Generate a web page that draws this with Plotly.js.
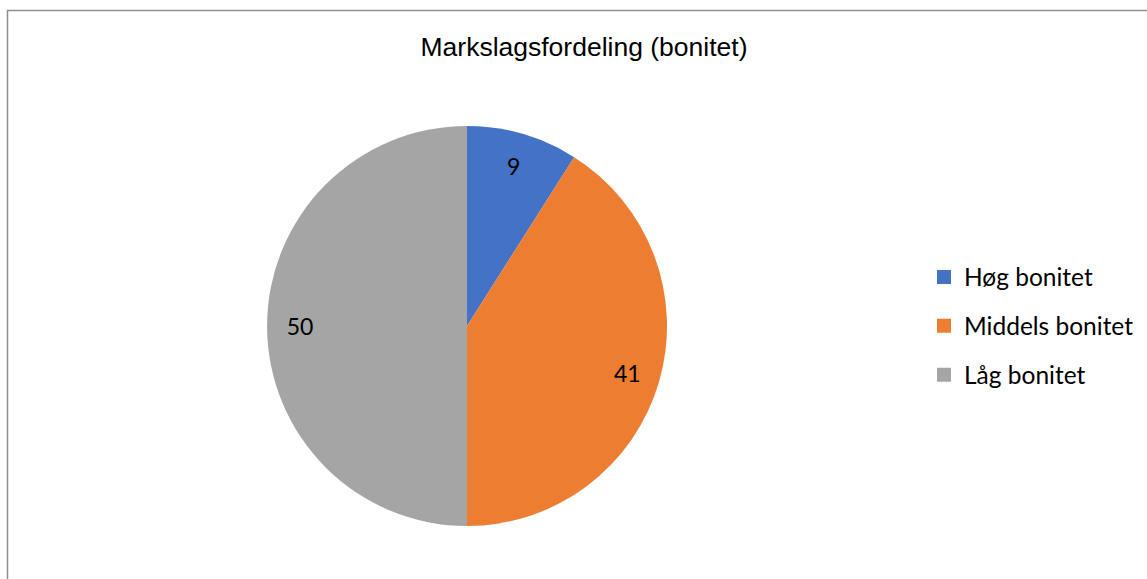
<!DOCTYPE html>
<html>
<head>
<meta charset="utf-8">
<script src="https://cdn.plot.ly/plotly-3.0.1.min.js"></script>
<style>
html,body{margin:0;padding:0;background:#fff;}
#chart{width:1147px;height:579px;}
</style>
</head>
<body>
<div id="chart"></div>
<script>
const categories = ["Høg bonitet", "Middels bonitet", "Låg bonitet"];
const values = [9, 41, 50];
const colors = ["#4472C4", "#ED7D31", "#A5A5A5"];
const chartTitle = "Markslagsfordeling (bonitet)";

const W = 1147, H = 579;
const pieDomain = {x: [267 / W, 667 / W], y: [53 / H, 453 / H]};
const labelFont = {family: "Lato, 'Open Sans', sans-serif", size: 23, color: "#000"};
const legendFont = {family: "Lato, 'Open Sans', sans-serif", size: 24.5, color: "#000"};

// visible pie (no text)
const pie = {
  type: "pie",
  labels: categories,
  values: values,
  sort: false,
  direction: "clockwise",
  rotation: 0,
  marker: {colors: colors, line: {width: 0}},
  textinfo: "none",
  showlegend: false,
  hoverinfo: "label+value",
  domain: pieDomain
};

// transparent ring on top carrying the data labels near the rim
const labelRing = {
  type: "pie",
  labels: categories,
  values: values,
  sort: false,
  direction: "clockwise",
  rotation: 0,
  hole: 0.67,
  marker: {colors: categories.map(() => "rgba(0,0,0,0)"), line: {width: 0}},
  textinfo: "value",
  textposition: "inside",
  insidetextorientation: "horizontal",
  insidetextfont: labelFont,
  showlegend: false,
  hoverinfo: "skip",
  domain: pieDomain
};

const legendTraces = categories.map((c, i) => ({
  type: "scatter",
  mode: "markers",
  x: [null], y: [null],
  name: c,
  legendgroup: "g" + i,
  marker: {symbol: "square", size: 14, color: colors[i]},
  hoverinfo: "skip"
}));

const layout = {
  width: W, height: H,
  margin: {l: 0, r: 0, t: 0, b: 0},
  paper_bgcolor: "#fff",
  plot_bgcolor: "#fff",
  title: {
    text: chartTitle,
    font: {family: "'Liberation Sans', Arial, sans-serif", size: 26.5, color: "#000"},
    x: 584 / W, xanchor: "center", xref: "container",
    y: 1 - 47 / H, yanchor: "middle", yref: "container"
  },
  xaxis: {visible: false},
  yaxis: {visible: false},
  showlegend: true,
  legend: {
    x: 924 / W, xanchor: "left",
    y: 1 - 326 / H, yanchor: "middle",
    font: legendFont,
    tracegroupgap: 14,
    itemwidth: 30,
    bgcolor: "rgba(0,0,0,0)"
  },
  shapes: [{
    type: "rect", xref: "paper", yref: "paper",
    x0: 7.5 / W, x1: 1.02, y0: -0.02, y1: 1 - 10.5 / H,
    line: {color: "#8f8f8f", width: 1.5},
    fillcolor: "rgba(0,0,0,0)", layer: "below"
  }]
};

Plotly.newPlot("chart", [pie, labelRing].concat(legendTraces), layout, {displayModeBar: false, staticPlot: true});
</script>
</body>
</html>
